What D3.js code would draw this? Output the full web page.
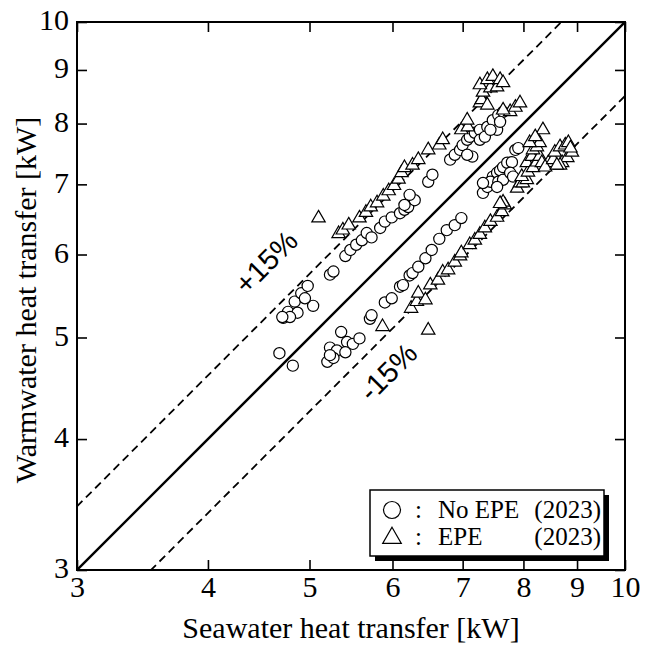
<!DOCTYPE html>
<html lang="en">
<head>
<meta charset="utf-8">
<title>Seawater vs Warmwater heat transfer</title>
<script src="https://d3js.org/d3.v7.min.js"></script>
<style>
  body { margin: 0; background: #fff; }
  svg text { font-family: "Liberation Serif", "Times New Roman", serif; fill: #000; }
  svg .pct { font-family: "Liberation Sans", Arial, sans-serif; }
</style>
</head>
<body>
<div id="chart"></div>
<script>
// [seawater kW, warmwater kW]
var noEpe = [
  [4.72,5.22],[4.77,5.29],[4.84,5.41],[4.91,5.51],[4.98,5.60],[5.04,5.36],[4.87,5.28],[4.95,5.45],
  [4.79,5.23],[4.71,5.23],[4.68,4.83],[4.82,4.70],
  [5.23,5.74],[5.27,5.78],[5.41,5.98],[5.47,6.06],[5.54,6.13],[5.61,6.19],[5.67,6.29],[5.73,6.23],
  [5.84,6.36],[5.90,6.45],[5.99,6.51],[6.10,6.57],[6.16,6.62],[6.21,6.66],[6.30,6.76],[6.23,6.84],
  [6.16,6.69],[6.49,7.04],[6.55,7.15],
  [6.81,7.39],[6.88,7.47],[6.96,7.55],[7.00,7.63],[7.07,7.72],[7.11,7.77],[7.19,7.84],[7.27,7.89],
  [7.39,7.94],[7.48,8.06],[7.57,8.15],[7.65,8.21],[7.55,7.89],[7.15,7.44],[7.07,7.47],[7.27,7.72],
  [7.35,7.77],[7.44,7.89],[7.60,8.03],
  [5.36,5.06],[5.23,4.89],[5.31,4.86],[5.43,4.95],[5.50,4.93],[5.58,4.99],[5.41,4.84],[5.20,4.74],
  [5.27,4.78],[5.23,4.81],
  [5.71,5.21],[5.73,5.25],[5.90,5.40],[5.99,5.45],[6.10,5.59],[6.14,5.61],[6.23,5.73],[6.27,5.76],
  [6.35,5.84],[6.45,5.95],[6.54,6.06],[6.65,6.21],[6.76,6.33],[6.88,6.40],[6.98,6.50],
  [7.32,6.87],[7.39,6.96],[7.48,7.12],[7.55,7.18],[7.60,7.22],[7.65,7.27],[7.72,7.34],[7.80,7.35],
  [7.86,7.55],[7.91,7.58],[7.44,7.04],[7.57,7.04],[7.65,7.07],[7.77,7.18],[7.82,7.12],[7.55,6.96],
  [7.32,7.02]
];

var epe = [
  [5.10,6.50],
  [5.33,6.28],[5.38,6.33],[5.45,6.40],[5.58,6.50],[5.66,6.58],[5.72,6.66],[5.80,6.72],[5.88,6.82],
  [5.95,6.90],[6.02,6.98],[6.08,7.08],
  [6.12,7.18],[6.16,7.26],[6.27,7.30],[6.35,7.39],[6.49,7.55],[6.65,7.63],[6.70,7.72],[6.98,7.89],
  [7.08,7.94],[7.07,8.06],[7.27,8.37],[7.30,8.43],[7.39,8.33],[7.32,8.57],[7.44,8.65],[7.55,8.67],
  [7.27,8.71],[7.39,8.81],[7.48,8.87],[7.60,8.81],[7.65,8.75],[7.77,8.21],[7.86,8.29],[7.94,8.37],
  [7.65,8.24],
  [5.87,5.12],[6.25,5.33],[6.33,5.41],[6.35,5.51],[6.45,5.43],[6.49,5.08],[6.52,5.61],[6.63,5.67],
  [6.70,5.77],[6.78,5.80],[6.88,5.90],[6.96,5.98],[6.98,6.02],[7.11,6.13],[7.19,6.19],[7.27,6.27],
  [7.35,6.36],[7.44,6.45],[7.55,6.51],[7.63,6.59],[7.68,6.69],[7.65,6.73],[7.60,6.71],
  [7.89,6.94],[7.94,7.02],[7.99,7.02],[8.06,7.07],[7.97,7.12],[8.08,7.19],[8.06,7.34],[8.15,7.44],
  [8.17,7.26],[8.24,7.35],[8.29,7.44],[8.17,7.55],[8.24,7.60],[8.29,7.67],[8.35,7.89],[8.11,7.67],
  [8.21,7.77],[8.33,7.34],[8.45,7.34],[8.39,7.27],[8.54,7.39],[8.57,7.51],[8.67,7.60],[8.77,7.63],
  [8.83,7.67],[8.71,7.34],[8.81,7.42],[8.90,7.51],[8.67,7.30],[8.87,7.58],[8.61,7.30]
];

var tickValues = [3, 4, 5, 6, 7, 8, 9, 10];
var bandRatios = [1.15, 0.85];
var bandLabels = ["+15%", "-15%"];
var legendItems = [["No EPE", "(2023)"], ["EPE", "(2023)"]];

var margin = {top: 22, right: 23, bottom: 76, left: 77},
    width = 548,
    height = 548;

var svg = d3.select("#chart").append("svg")
    .attr("width", 648)
    .attr("height", 646);

var g = svg.append("g")
    .attr("transform", "translate(" + margin.left + "," + margin.top + ")");

var x = d3.scaleLog().domain([3, 10]).range([0, width]);
var y = d3.scaleLog().domain([3, 10]).range([height, 0]);

g.append("clipPath").attr("id", "clip")
  .append("rect").attr("width", width).attr("height", height);

// reference lines
var lines = g.append("g").attr("clip-path", "url(#clip)");
lines.append("line")
    .attr("x1", x(3)).attr("y1", y(3))
    .attr("x2", x(10)).attr("y2", y(10))
    .attr("stroke", "#000").attr("stroke-width", 2.4);

bandRatios.forEach(function(r) {
  var line = d3.line()
      .x(function(d) { return x(d); })
      .y(function(d) { return y(d * r); });
  lines.append("path")
      .datum([2.5, 12])
      .attr("d", line)
      .attr("fill", "none")
      .attr("stroke", "#000")
      .attr("stroke-width", 1.8)
      .attr("stroke-dasharray", "8,5");
});

// labels on the band lines
var pctPos = [[266 - margin.left, 262 - margin.top], [388 - margin.left, 372 - margin.top]];
bandLabels.forEach(function(t, i) {
  g.append("text")
      .attr("class", "pct")
      .attr("transform", "translate(" + pctPos[i][0] + "," + pctPos[i][1] + ") rotate(-45)")
      .attr("text-anchor", "middle")
      .attr("dy", "0.35em")
      .style("font-size", "29px")
      .text(t);
});

// data
g.selectAll(".c")
  .data(noEpe)
  .enter().append("circle")
    .attr("cx", function(d) { return x(d[0]); })
    .attr("cy", function(d) { return y(d[1]); })
    .attr("r", 5.6)
    .attr("fill", "#fff")
    .attr("stroke", "#000")
    .attr("stroke-width", 1.2);

var tri = d3.symbol().type(d3.symbolTriangle).size(78);
g.selectAll(".t")
  .data(epe)
  .enter().append("path")
    .attr("d", tri)
    .attr("transform", function(d) { return "translate(" + x(d[0]) + "," + y(d[1]) + ")"; })
    .attr("fill", "#fff")
    .attr("stroke", "#000")
    .attr("stroke-width", 1.2);

// axes, ticks pointing inward on all sides
var fmt = d3.format("d");
var xAxis = g.append("g")
    .attr("transform", "translate(0," + height + ")")
    .call(d3.axisBottom(x).tickValues(tickValues).tickFormat(fmt).tickSizeInner(-10).tickSizeOuter(0).tickPadding(6));
var yAxis = g.append("g")
    .call(d3.axisLeft(y).tickValues(tickValues).tickFormat(fmt).tickSizeInner(-10).tickSizeOuter(0).tickPadding(8));
g.append("g")
    .call(d3.axisTop(x).tickValues(tickValues).tickFormat("").tickSizeInner(-10).tickSizeOuter(0));
g.append("g")
    .attr("transform", "translate(" + width + ",0)")
    .call(d3.axisRight(y).tickValues(tickValues).tickFormat("").tickSizeInner(-10).tickSizeOuter(0));

g.selectAll(".domain").remove();
g.selectAll(".tick line").attr("stroke", "#000").attr("stroke-width", 1.6);
g.selectAll(".tick text")
    .style("font-family", "'Liberation Serif', 'Times New Roman', serif")
    .style("font-size", "30px")
    .attr("fill", "#000");
yAxis.selectAll(".tick text").attr("dy", "0.26em");

g.append("rect")
    .attr("width", width).attr("height", height)
    .attr("fill", "none").attr("stroke", "#000").attr("stroke-width", 2);

// axis titles
svg.append("text")
    .attr("x", margin.left + width / 2)
    .attr("y", 638)
    .attr("text-anchor", "middle")
    .style("font-size", "30px")
    .text("Seawater heat transfer [kW]");

svg.append("text")
    .attr("transform", "translate(36," + 300 + ") rotate(-90)")
    .attr("text-anchor", "middle")
    .style("font-size", "30px")
    .text("Warmwater heat transfer [kW]");

// legend with drop shadow
var lg = svg.append("g").attr("transform", "translate(370,490)");
lg.append("rect").attr("x", 5).attr("y", 5).attr("width", 234).attr("height", 66).attr("fill", "#000");
lg.append("rect").attr("width", 234).attr("height", 66)
    .attr("fill", "#fff").attr("stroke", "#000").attr("stroke-width", 1.5);

lg.append("circle").attr("cx", 22).attr("cy", 20).attr("r", 8.5)
    .attr("fill", "#fff").attr("stroke", "#000").attr("stroke-width", 1.2);
lg.append("path")
    .attr("d", d3.symbol().type(d3.symbolTriangle).size(150))
    .attr("transform", "translate(22,48)")
    .attr("fill", "#fff").attr("stroke", "#000").attr("stroke-width", 1.2);

legendItems.forEach(function(it, i) {
  var by = 28 + i * 27;
  lg.append("text").attr("x", 45).attr("y", by).style("font-size", "25px").text(":");
  lg.append("text").attr("x", 68).attr("y", by).style("font-size", "25px").text(it[0]);
  lg.append("text").attr("x", 231).attr("y", by).attr("text-anchor", "end").style("font-size", "25px").text(it[1]);
});
</script>
</body>
</html>
